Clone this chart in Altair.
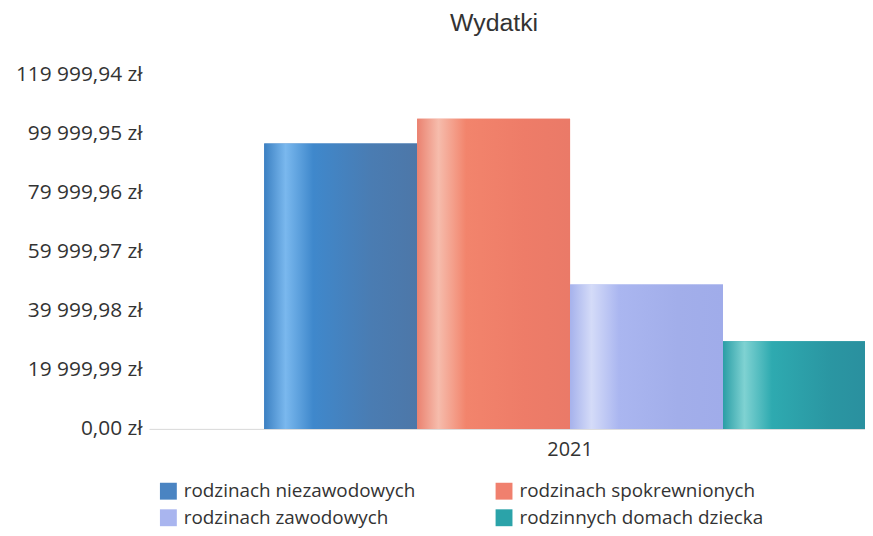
import altair as alt
import pandas as pd

# ---- data ----
years = ["2021"]
categories = [
    "rodzinach niezawodowych",
    "rodzinach spokrewnionych",
    "rodzinach zawodowych",
    "rodzinnych domach dziecka",
]
values = [96600, 105000, 48900, 29700]
y_ticks = [0, 19999.99, 39999.98, 59999.97, 79999.96, 99999.95, 119999.94]

legend_colors = ["#4a84c2", "#f0806e", "#a9b5ef", "#2ba3a9"]
gradients = [
    ["#3b80c2", "#7ab8ee", "#3f88cc", "#4a7cb2", "#4d77a8"],
    ["#ea8270", "#f6bcac", "#f2846c", "#ee7c68", "#ea7a68"],
    ["#a6b2ec", "#d4dbf8", "#aab6f0", "#a2aeea", "#a0acea"],
    ["#2a9ea6", "#7fd2d2", "#2eaab0", "#2a96a2", "#2a8e9e"],
]
stop_offsets = [0, 0.14, 0.32, 0.7, 1]

df = pd.DataFrame({
    "rok": years * len(categories),
    "kategoria": categories,
    "wartosc": values,
})

FONT = "Open Sans"

x_enc = alt.X(
    "rok:N",
    scale=alt.Scale(range=[0, 848], paddingOuter=0.1883, paddingInner=0),
    axis=alt.Axis(title=None, ticks=False, domain=True, domainColor="#d9d9d9",
                  labelFontSize=20, labelColor="#333333", labelPadding=11,
                  labelAngle=0, labelFont=FONT),
)
xo_enc = alt.XOffset("kategoria:N",
                     scale=alt.Scale(domain=categories, paddingInner=0, paddingOuter=0))
y_enc = alt.Y(
    "wartosc:Q",
    scale=alt.Scale(domain=[0, 119999.94], nice=False),
    axis=alt.Axis(title=None, values=y_ticks, grid=False, ticks=False, domain=False,
                  labelFontSize=21, labelColor="#333333", labelPadding=7, labelFont=FONT,
                  labelExpr="replace(replace(format(datum.value, ',.2f'), ',', ' '), '.', ',') + ' zł'"),
)

base = alt.Chart(df)

main = base.mark_bar(clip=True).encode(
    x=x_enc,
    xOffset=xo_enc,
    y=y_enc,
    color=alt.Color(
        "kategoria:N",
        scale=alt.Scale(domain=categories, range=legend_colors),
        legend=alt.Legend(
            title=None, orient="none", legendX=10, legendY=410, columns=2,
            columnPadding=79, rowPadding=7, symbolType="square", symbolSize=289,
            symbolStrokeWidth=0, labelFontSize=19, labelColor="#333333",
            labelFont=FONT, labelOffset=6, labelLimit=500, direction="horizontal",
        ),
    ),
)

layers = [main]
for cat, stops in zip(categories, gradients):
    grad = alt.LinearGradient(
        gradient="linear", x1=0, x2=1, y1=0, y2=0,
        stops=[alt.GradientStop(offset=o, color=c) for o, c in zip(stop_offsets, stops)],
    )
    layers.append(
        base.transform_filter(alt.datum.kategoria == cat)
        .mark_bar(clip=True, color=grad)
        .encode(x=x_enc, xOffset=xo_enc, y=y_enc)
    )

chart = alt.layer(*layers).properties(
    width=721,
    height=357,
    autosize=alt.AutoSizeParams(type="none"),
    padding={"left": 142, "top": 65, "right": 0, "bottom": 100},
    title=alt.TitleParams("Wydatki", fontSize=25, fontWeight="normal", color="#333333",
                          font="Liberation Sans", anchor="middle", dx=-13, offset=28),
).configure_view(stroke=None)

chart.save("out.html", embed_options={"renderer": "svg", "actions": False})
